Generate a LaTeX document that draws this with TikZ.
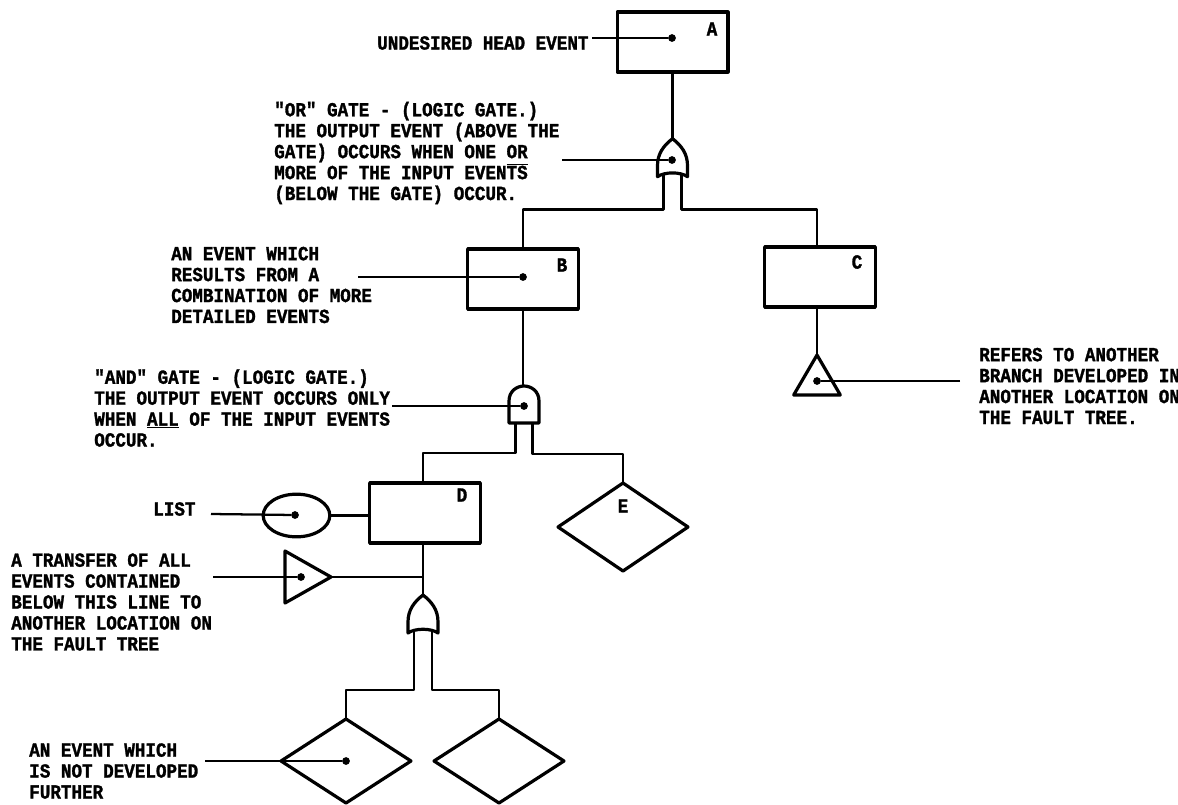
\documentclass[tikz,border=0pt]{standalone}
\usepackage{fontspec}
\usepackage{tikz}
\usetikzlibrary{positioning,shapes.geometric}
\newfontfamily\scanfont[FakeStretch=0.88,BoldFeatures={FakeBold=1.4}]{Liberation Mono}
\tikzset{
  orgate/.pic={
    \draw[gateline] (0,0) .. controls (9,7) and (15,15) .. (15,27) -- (15,38)
      .. controls (8,33) and (-8,33) .. (-15,38) -- (-15,27)
      .. controls (-15,15) and (-9,7) .. (0,0) -- cycle;
    \coordinate (-l) at (-9,35);
    \coordinate (-r) at (9,35);
  },
  andgate/.pic={
    \draw[gateline] (-15,37) -- (-15,15) .. controls (-15,5) and (-7,0) .. (0,0)
      .. controls (7,0) and (15,5) .. (15,15) -- (15,37) -- cycle;
    \coordinate (-l) at (-8.5,37);
    \coordinate (-r) at (8.5,37);
  }
}
\begin{document}
\begin{tikzpicture}[x=0.75pt,y=-0.75pt,line join=round,node distance=20pt]
  \tikzstyle{gateline}=[line width=2.4pt]
  \tikzstyle{wire}=[line width=2pt]
  \tikzstyle{leader}=[line width=1.7pt]
  \tikzstyle{eventbox}=[draw,line width=2.5pt,outer sep=0pt,minimum width=83pt,minimum height=45pt]
  \tikzstyle{undevel}=[draw,diamond,line width=2.4pt,outer sep=0pt,inner sep=0pt,minimum width=97.5pt,minimum height=66pt]
  \tikzstyle{transferup}=[draw,isosceles triangle,isosceles triangle stretches,shape border rotate=90,line width=2.4pt,outer sep=0pt,inner sep=0pt,minimum width=35pt,minimum height=30pt]
  \tikzstyle{transferside}=[draw,isosceles triangle,isosceles triangle stretches,line width=2.4pt,outer sep=0pt,inner sep=0pt,minimum width=39pt,minimum height=34.5pt]
  \tikzstyle{listmark}=[draw,ellipse,line width=2.4pt,outer sep=0pt,inner sep=0pt,minimum width=50pt,minimum height=32pt]
  \tikzstyle{dotmark}=[circle,fill=black,inner sep=0pt,minimum size=5.8pt]
  \tikzstyle{note}=[anchor=west,align=left,inner sep=0pt,font=\scanfont\bfseries\fontsize{15}{15.7}\selectfont]
  \tikzstyle{letter}=[inner sep=0pt,font=\scanfont\bfseries\fontsize{15}{15.7}\selectfont]
  \useasboundingbox (0,0) rectangle (1178,804);

  \node[eventbox] (evA) at (672.5,42) {};
  \node[letter] (lbA) at (712,29) {A};
  \node[dotmark] (dotA) at (672,38) {};
  \coordinate[below=50pt of evA] (topOr);
  \pic (gOr) at (topOr) {orgate};
  \node[dotmark] (dotOr) at (672,160) {};

  \node[eventbox] (evB) at (523,279) {};
  \node[letter] (lbB) at (562,265) {B};
  \node[dotmark] (dotB) at (523,277) {};
  \node[eventbox] (evC) at (820,277) {};
  \node[letter] (lbC) at (857,262) {C};

  \node[transferup,anchor=apex] (trC) at (817,355) {};
  \node[dotmark] (dotC) at (817,381) {};

  \coordinate (topAnd) at (524,386);
  \pic (gAnd) at (topAnd) {andgate};
  \node[dotmark] (dotAnd) at (524,406) {};

  \node[eventbox] (evD) at (425,513) {};
  \node[letter] (lbD) at (462,495) {D};
  \node[undevel] (evE) at (623,527) {};
  \node[letter] (lbE) at (623,506) {E};
  \node[listmark] (lst) at (296.5,515.5) {};
  \node[dotmark] (dotL) at (295,515) {};

  \node[transferside,anchor=apex] (trD) at (331,577) {};
  \node[dotmark] (dotT) at (301,577) {};
  \coordinate (topLow) at (423,595);
  \pic (gLow) at (topLow) {orgate};

  \node[undevel,minimum height=63pt] (evF) at (346,761) {};
  \node[undevel,minimum height=63pt] (evG) at (499,761) {};
  \node[dotmark] (dotF) at (346,761) {};

  \node[note] (txA) at (377,43) {UNDESIRED HEAD EVENT};
  \node[note] (txOr) at (274,153) {"OR" GATE - (LOGIC GATE.)\\THE OUTPUT EVENT (ABOVE THE\\GATE) OCCURS WHEN ONE OR\\MORE OF THE INPUT EVEN\smash{$\overline{\hbox{TS}}$}\\(BELOW THE GATE) OCCUR.};
  \node[note] (txB) at (171,285) {AN EVENT WHICH\\RESULTS FROM A\\COMBINATION OF MORE\\DETAILED EVENTS};
  \node[note] (txAnd) at (94,408) {"AND" GATE - (LOGIC GATE.)\\THE OUTPUT EVENT OCCURS ONLY\\WHEN \underline{ALL} OF THE INPUT EVENTS\\OCCUR.};
  \node[note] (txC) at (979,386) {REFERS TO ANOTHER\\BRANCH DEVELOPED IN\\ANOTHER LOCATION ON\\THE FAULT TREE.};
  \node[note] (txL) at (153,509) {LIST};
  \node[note] (txT) at (11,602) {A TRANSFER OF ALL\\EVENTS CONTAINED\\BELOW THIS LINE TO\\ANOTHER LOCATION ON\\THE FAULT TREE};
  \node[note] (txF) at (29,771) {AN EVENT WHICH\\IS NOT DEVELOPED\\FURTHER};

  \coordinate (ldA) at (592,38);
  \coordinate (ldOr) at (562,160);
  \coordinate (ldB) at (358,277);
  \coordinate (ldAnd) at (392,406);
  \coordinate (ldC) at (960,381);
  \coordinate (ldL) at (211,514);
  \coordinate (ldT) at (213,577);
  \coordinate (ldF) at (205,761);

  \draw[leader] (ldA)--(dotA);
  \draw[leader] (ldOr)--(dotOr);
  \draw[leader] (ldB)--(dotB);
  \draw[leader] (ldAnd)--(dotAnd);
  \draw[leader] (ldC)--(dotC);
  \draw[leader] (ldL)--(dotL);
  \draw[leader] (ldT)--(dotT);
  \draw[leader] (ldF)--(dotF);

  \draw[wire] (evA)--(topOr);
  \draw[wire] (gOr-l)--++(0,36)-|(evB);
  \draw[wire] (gOr-r)--++(0,36)-|(evC.north-|trC.apex);
  \draw[wire] (evC.south-|trC.apex)--(trC.apex);
  \draw[wire] (evB)--(topAnd-|evB);
  \draw[wire] (gAnd-l)--++(0,30)-|(evD.north-|topLow);
  \draw[wire] (gAnd-r)--++(0,31)-|(evE);
  \draw[wire] (evD.west|-lst)--(lst);
  \draw[wire] (evD.south-|topLow)--(topLow);
  \draw[wire] (trD.apex)--(trD.apex-|topLow);
  \draw[wire] (gLow-l)--++(0,60)-|(evF);
  \draw[wire] (gLow-r)--++(0,60)-|(evG);
\end{tikzpicture}
\end{document}
